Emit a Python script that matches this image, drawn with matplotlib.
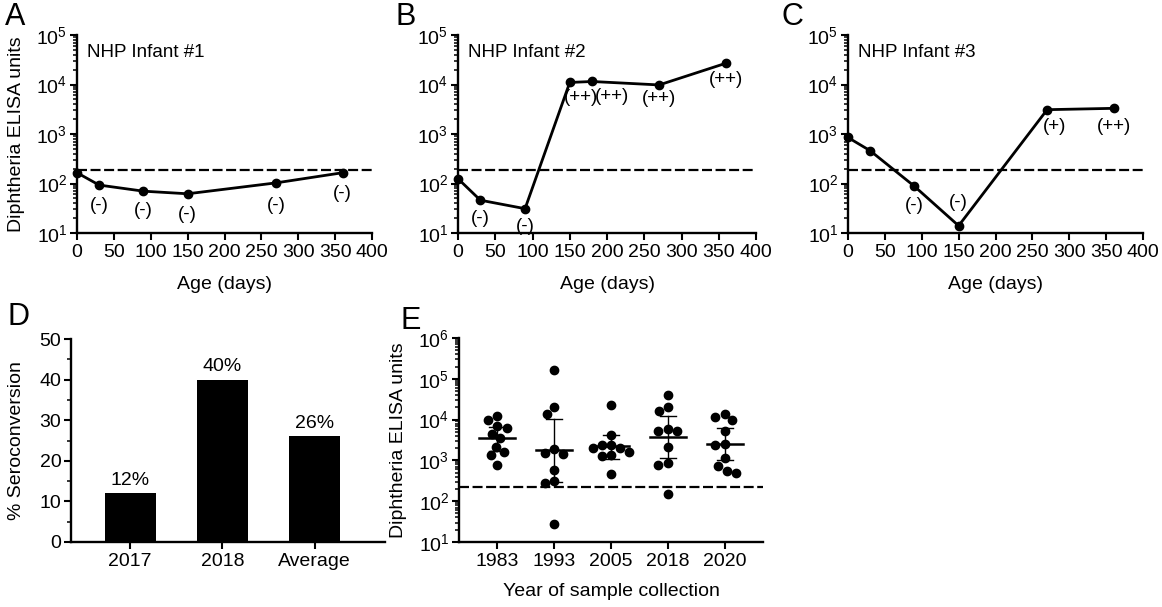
import numpy as np
import matplotlib
matplotlib.use("Agg")
import matplotlib.pyplot as plt
from matplotlib.ticker import LogLocator, MultipleLocator, NullFormatter

plt.rcParams['font.family'] = 'Liberation Sans'
plt.rcParams['mathtext.fontset'] = 'custom'
plt.rcParams['mathtext.rm'] = 'Liberation Sans'
plt.rcParams['mathtext.default'] = 'regular'

# ---- data: panels A-C (NHP infants) ----
age_days_1 = [0, 30, 90, 150, 270, 360]
infant1_units = [165, 93, 70, 62, 103, 165]
infant1_calls = ['', '(-)', '(-)', '(-)', '(-)', '(-)']

age_days_2 = [0, 30, 90, 150, 180, 270, 360]
infant2_units = [125, 46, 31, 11000, 11500, 9800, 27000]
infant2_calls = ['', '(-)', '(-)', '(++)', '(++)', '(++)', '(++)']

age_days_3 = [0, 30, 90, 150, 270, 360]
infant3_units = [850, 460, 88, 14, 3100, 3300]
infant3_calls = ['', '', '(-)', '(-)', '(+)', '(++)']

threshold_abc = 190

# ---- data: panel D ----
sero_groups = ['2017', '2018', 'Average']
sero_pct = [12, 40, 26]

# ---- data: panel E ----
years = ['1983', '1993', '2005', '2018', '2020']
units_1983 = [12200, 6970, 4430, 1630, 9770, 6120, 3480, 2170, 1350, 770]
units_1993 = [164000, 20000, 13700, 1410, 1870, 1550, 582, 318, 283, 28]
units_2005 = [22800, 4200, 2000, 1630, 2380, 2380, 2000, 1280, 1360, 464]
units_2018 = [40100, 20000, 16500, 5350, 5780, 5350, 2170, 848, 770, 148]
units_2020 = [11700, 13700, 9770, 5260, 2380, 2460, 1120, 740, 500, 560]
year_medians = [3500, 1800, 2250, 3700, 2500]
year_q1 = [1720, 300, 1100, 1120, 1020]
year_q3 = [6700, 10300, 4300, 12500, 6330]
threshold_e = 220

W, H = 1162, 607
fig = plt.figure(figsize=(W / 100, H / 100), dpi=100)


def px_axes(left, top, right, bottom):
    return fig.add_axes([left / W, 1 - bottom / H, (right - left) / W, (bottom - top) / H])


def style_axes(ax):
    for s in ['top', 'right']:
        ax.spines[s].set_visible(False)
    for s in ['left', 'bottom']:
        ax.spines[s].set_linewidth(1.7)
    ax.tick_params(which='major', length=5, width=1.5, labelsize=14, pad=3)
    ax.tick_params(which='minor', length=3, width=1.1)
    ax.tick_params(axis='y', pad=2)


def log_y(ax, top_exp):
    ax.set_yscale('log')
    ax.set_ylim(10, 10 ** top_exp)
    ax.yaxis.set_major_locator(LogLocator(base=10, numticks=10))
    ax.yaxis.set_minor_locator(LogLocator(base=10, subs=np.arange(2, 10), numticks=20))
    ax.yaxis.set_minor_formatter(NullFormatter())


def infant_panel(ax, days, units, calls, offsets, title, letter):
    style_axes(ax)
    log_y(ax, 5)
    ax.set_xlim(0, 400)
    ax.xaxis.set_major_locator(MultipleLocator(50))
    ax.axhline(threshold_abc, color='black', lw=1.6, dashes=(4.5, 1.6), zorder=1)
    ax.plot(days, units, color='black', lw=2.0, marker='o', ms=6, clip_on=False, zorder=3)
    for d, u, c, off in zip(days, units, calls, offsets):
        if c:
            ax.annotate(c, (d, u), xytext=off, textcoords='offset points',
                        ha='center', va='center', fontsize=13.5)
    ax.text(0.034, 0.91, title, transform=ax.transAxes, fontsize=13.5, va='center')
    ax.set_xlabel('Age (days)', fontsize=14)
    ax.xaxis.set_label_coords(0.5, -0.215)
    fig.text(letter[1] / W, 1 - letter[2] / H, letter[0], fontsize=22, ha='center', va='center')


# ---- A ----
axA = px_axes(77, 35, 372, 233)
infant_panel(axA, age_days_1, infant1_units, infant1_calls,
             [(0, 0), (0, -15), (0, -14), (0, -15), (0, -16), (0, -15)],
             'NHP Infant #1', ('A', 15, 17))
axA.set_ylabel('Diphtheria ELISA units', fontsize=14)
axA.yaxis.set_label_coords(-0.175, 0.5)

# ---- B ----
axB = px_axes(458, 35, 756, 233)
infant_panel(axB, age_days_2, infant2_units, infant2_calls,
             [(0, 0), (0, -13), (0, -13), (8, -11), (14, -11), (0, -10), (0, -12)],
             'NHP Infant #2', ('B', 406, 17))

# ---- C ----
axC = px_axes(848, 35, 1143, 233)
infant_panel(axC, age_days_3, infant3_units, infant3_calls,
             [(0, 0), (0, 0), (0, -14), (0, 17), (5, -12), (0, -13)],
             'NHP Infant #3', ('C', 792, 17))

# ---- D ----
axD = px_axes(71, 339, 385, 542)
style_axes(axD)
xd = np.arange(len(sero_groups))
bars = axD.bar(xd, sero_pct, width=0.55, color='black')
axD.bar_label(bars, labels=[f'{v}%' for v in sero_pct], padding=3, fontsize=14)
axD.set_xlim(-0.64, 2.76)
axD.set_ylim(0, 50)
axD.set_xticks(xd, sero_groups)
axD.yaxis.set_major_locator(MultipleLocator(10))
axD.yaxis.set_minor_locator(MultipleLocator(5))
axD.set_ylabel('% Seroconversion', fontsize=14)
axD.yaxis.set_label_coords(-0.145, 0.5)
fig.text(19 / W, 1 - 317 / H, 'D', fontsize=22, ha='center', va='center')

# ---- E ----
axE = px_axes(459, 338, 763, 542)
style_axes(axE)
log_y(axE, 6)
xlim_e = (-0.667, 4.667)
axE.set_xlim(*xlim_e)
unit_px = (763 - 459) / (xlim_e[1] - xlim_e[0])
decade_px = (542 - 338) / 5


def swarm_offsets(values, gap_px=9.5):
    y = np.log10(values) * decade_px
    offsets = np.zeros(len(y))
    placed = []
    candidates = sorted(np.arange(-40, 40.5, 0.5), key=abs)
    for i in np.argsort(y)[::-1]:
        for dx in candidates:
            if all(np.hypot(dx - px, y[i] - py) >= gap_px for px, py in placed):
                break
        placed.append((dx, y[i]))
        offsets[i] = dx / unit_px
    return offsets


axE.axhline(threshold_e, color='black', lw=1.6, dashes=(4.5, 1.6), zorder=1)
groups = [units_1983, units_1993, units_2005, units_2018, units_2020]
for i, vals in enumerate(groups):
    axE.scatter(i + swarm_offsets(vals), vals, s=36, color='black', zorder=3, clip_on=False)
    axE.plot([i - 0.32, i + 0.32], [year_medians[i]] * 2, color='black', lw=1.8, zorder=4)
    axE.plot([i, i], [year_q1[i], year_q3[i]], color='black', lw=1.0, zorder=4)
    for q in (year_q1[i], year_q3[i]):
        axE.plot([i - 0.14, i + 0.14], [q, q], color='black', lw=1.0, zorder=4)
axE.set_xticks(range(len(years)), years)
axE.set_ylabel('Diphtheria ELISA units', fontsize=14)
axE.yaxis.set_label_coords(-0.17, 0.5)
axE.set_xlabel('Year of sample collection', fontsize=14)
axE.xaxis.set_label_coords(0.5, -0.2)
fig.text(411 / W, 1 - 321 / H, 'E', fontsize=22, ha='center', va='center')

fig.savefig('out.png', dpi=100)
